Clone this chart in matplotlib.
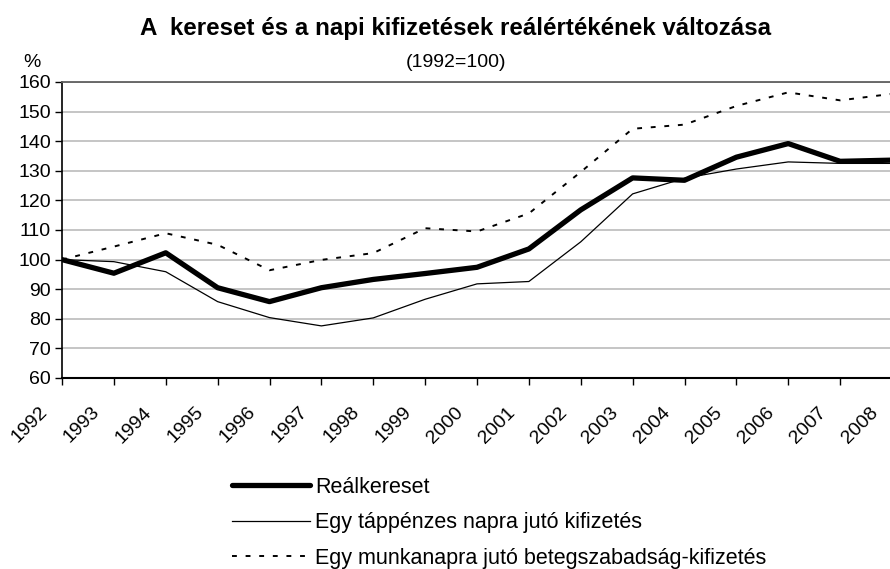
import matplotlib
matplotlib.use("Agg")
import matplotlib.pyplot as plt
from matplotlib.lines import Line2D
from matplotlib.transforms import offset_copy

plt.rcParams['font.family'] = ['Liberation Sans', 'DejaVu Sans']

# adatok (1992=100)
evek = list(range(1992, 2009))
realkereset = [100.0, 95.4, 102.3, 90.5, 85.8, 90.5, 93.3, 95.3, 97.4, 103.6,
               116.8, 127.6, 126.8, 134.6, 139.2, 133.2, 133.6]
tappenz = [100.0, 99.3, 95.9, 85.8, 80.4, 77.6, 80.3, 86.6, 91.8, 92.6,
           106.0, 122.2, 127.5, 130.6, 133.0, 132.5, 132.5]
betegszab = [100.0, 104.4, 108.9, 105.0, 96.4, 99.9, 102.2, 110.6, 109.5, 115.6,
             129.6, 144.2, 145.6, 151.9, 156.5, 153.8, 156.0]

cimkek = ['Reálkereset', 'Egy táppénzes napra jutó kifizetés',
          'Egy munkanapra jutó betegszabadság-kifizetés']

W, H = 890, 569
fig = plt.figure(figsize=(W / 100, H / 100), dpi=100)
ax = fig.add_axes([62 / W, 1 - 378 / H, 830 / W, 296 / H])

pontozott = (0, (2.5, 4.5))
ax.plot(evek, realkereset, color='black', linewidth=3.8, zorder=4)
ax.plot(evek, tappenz, color='black', linewidth=0.9, zorder=3)
ax.plot(evek, betegszab, color='black', linewidth=1.4, linestyle=pontozott, zorder=3)

ax.set_xlim(1992, 2008)
ax.set_ylim(60, 160)
ax.set_yticks(range(60, 161, 10))
ax.set_xticks(evek)
ax.set_xticklabels([])
ax.tick_params(axis='y', labelsize=14, length=5, width=1, pad=3)
ax.tick_params(axis='x', length=5, width=1)

# évszámok ferdén, a tick alatt balra eltolva (mint az Excelben)
trans = offset_copy(ax.get_xaxis_transform(), fig=fig, x=-32, y=-47, units='dots')
for e in evek:
    ax.text(e, 0, str(e), transform=trans, rotation=45, rotation_mode='anchor',
            ha='center', va='center', fontsize=14, clip_on=False)

ax.grid(axis='y', color='#c0c0c0', linewidth=1.3)
ax.set_axisbelow(True)
ax.spines['right'].set_visible(False)
ax.spines['top'].set_color('#606060')
ax.spines['top'].set_linewidth(1.3)
ax.spines['left'].set_linewidth(1.2)
ax.spines['bottom'].set_linewidth(1.5)

fig.text(456 / W, 1 - 35 / H, 'A  kereset és a napi kifizetések reálértékének változása',
         ha='center', va='baseline', fontsize=17.4, fontweight='bold')
fig.text(456 / W, 1 - 67 / H, '(1992=100)', ha='center', va='baseline', fontsize=14)
fig.text(32 / W, 1 - 67 / H, '%', ha='center', va='baseline', fontsize=14)

kezelok = [Line2D([], [], color='black', linewidth=3.8, solid_capstyle='round'),
           Line2D([], [], color='black', linewidth=0.9),
           Line2D([], [], color='black', linewidth=1.4, linestyle=pontozott)]
fig.legend(kezelok, cimkek, loc='upper left', bbox_to_anchor=(232 / W, 1 - 477 / H),
           frameon=False, fontsize=15.5, handlelength=3.63, handletextpad=0.23,
           labelspacing=0.67, borderaxespad=0, borderpad=0)

fig.savefig('out.png', dpi=100)
